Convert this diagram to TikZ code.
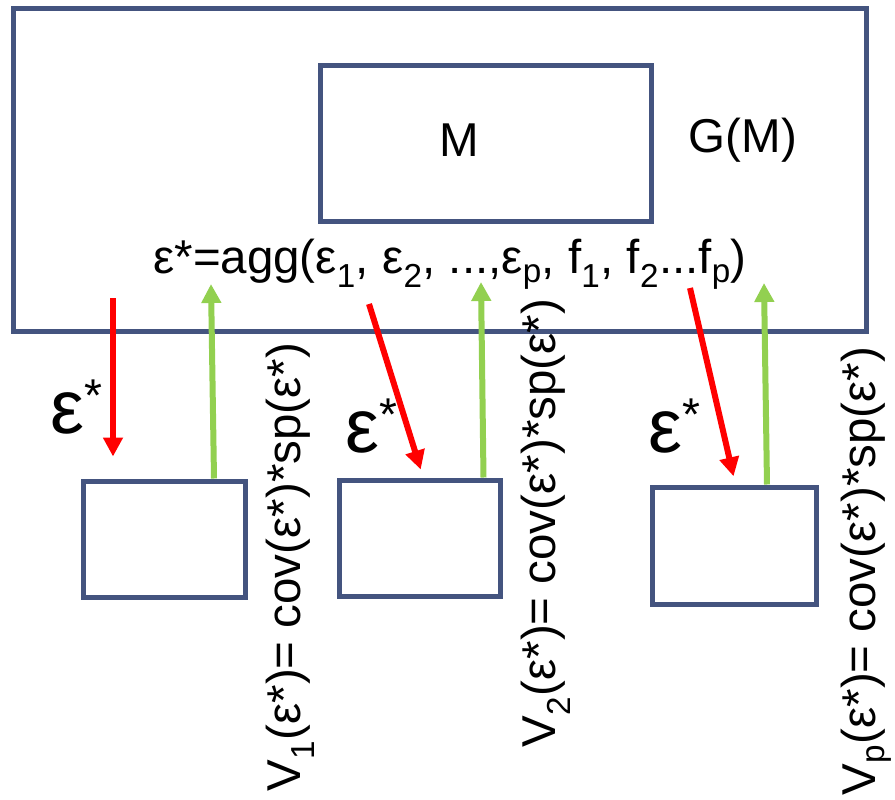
\documentclass[tikz,border=0pt]{standalone}
\usepackage{fontspec}
\setmainfont{Liberation Sans}
\usetikzlibrary{arrows.meta}

\definecolor{frameblue}{HTML}{44547F}
\definecolor{epsred}{HTML}{FF0000}
\definecolor{covgreen}{HTML}{92D050}

\newcommand{\epsstar}{ε\raisebox{22pt}{\fontsize{46}{46}\selectfont *}}

\tikzset{
  unit/.style={draw=frameblue, line width=5pt, rectangle, inner sep=0pt},
  send/.style={epsred, line width=6pt, -{Triangle[width=19pt,length=19pt]}},
  reply/.style={covgreen, line width=6pt, -{Triangle[width=19pt,length=19pt]}},
  label/.style={font=\fontsize{47.5}{50}\selectfont, inner sep=0pt},
  epslabel/.style={font=\fontsize{76}{80}\selectfont, inner sep=0pt},
}

\begin{document}
\begin{tikzpicture}[x=1pt,y=-1pt]
    \useasboundingbox (0,0) rectangle (895,800);

    % Global model G(M) with the inner model M
    \node[unit, minimum width=853pt, minimum height=322pt] (gm) at (439.5,170) {};
    \node[unit, minimum width=331pt, minimum height=155pt] (m) at (485.5,143.5) {};
    \node[label] (mtext) at (459,140) {M};
    \node[label] (gmtext) at (743,140) {G(M)};
    \node[label, anchor=base] (agg) at (450,273)
        {ε*=agg(ε\textsubscript{1}, ε\textsubscript{2}, ...,ε\textsubscript{p}, f\textsubscript{1}, f\textsubscript{2}...f\textsubscript{p})};

    % Local models
    \node[unit, minimum width=162pt, minimum height=116pt] (v1) at (164,539) {};
    \node[unit, minimum width=161pt, minimum height=116pt] (v2) at (419.5,538) {};
    \node[unit, minimum width=164pt, minimum height=117pt] (vp) at (734,545.5) {};

    % Arrow ends
    \coordinate (r1) at (113,298);
    \coordinate (r2) at (369,304);
    \coordinate (r3) at (690,288);
    \coordinate (t2) at (424,480);
    \coordinate (t3) at (736,487);
    \coordinate (g1) at (211,284);
    \coordinate (g2) at (481,282);
    \coordinate (g3) at (764,283);

    % epsilon* down, variance up
    \draw[send, shorten >=22pt] (r1) -- (r1 |- v1.north);
    \draw[send, shorten >=11pt] (r2) -- (t2);
    \draw[send, shorten >=11pt] (r3) -- (t3);
    \draw[reply] ([xshift=50pt]v1.north) -- (g1);
    \draw[reply] ([xshift=64pt]v2.north) -- (g2);
    \draw[reply] ([xshift=33pt]vp.north) -- (g3);

    \node[epslabel, anchor=base west] (e1) at (50,433) {\epsstar};
    \node[epslabel, anchor=base west] (e2) at (345,452) {\epsstar};
    \node[epslabel, anchor=base west] (e3) at (648,452) {\epsstar};

    % Variance labels
    \node[label, rotate=90] (l1) at (290,567) {V\textsubscript{1}(ε*)= cov(ε*)*sp(ε*)};
    \node[label, rotate=90] (l2) at (546,523) {V\textsubscript{2}(ε*)= cov(ε*)*sp(ε*)};
    \node[label, rotate=90] (lp) at (866,571) {V\textsubscript{p}(ε*)= cov(ε*)*sp(ε*)};
\end{tikzpicture}
\end{document}
